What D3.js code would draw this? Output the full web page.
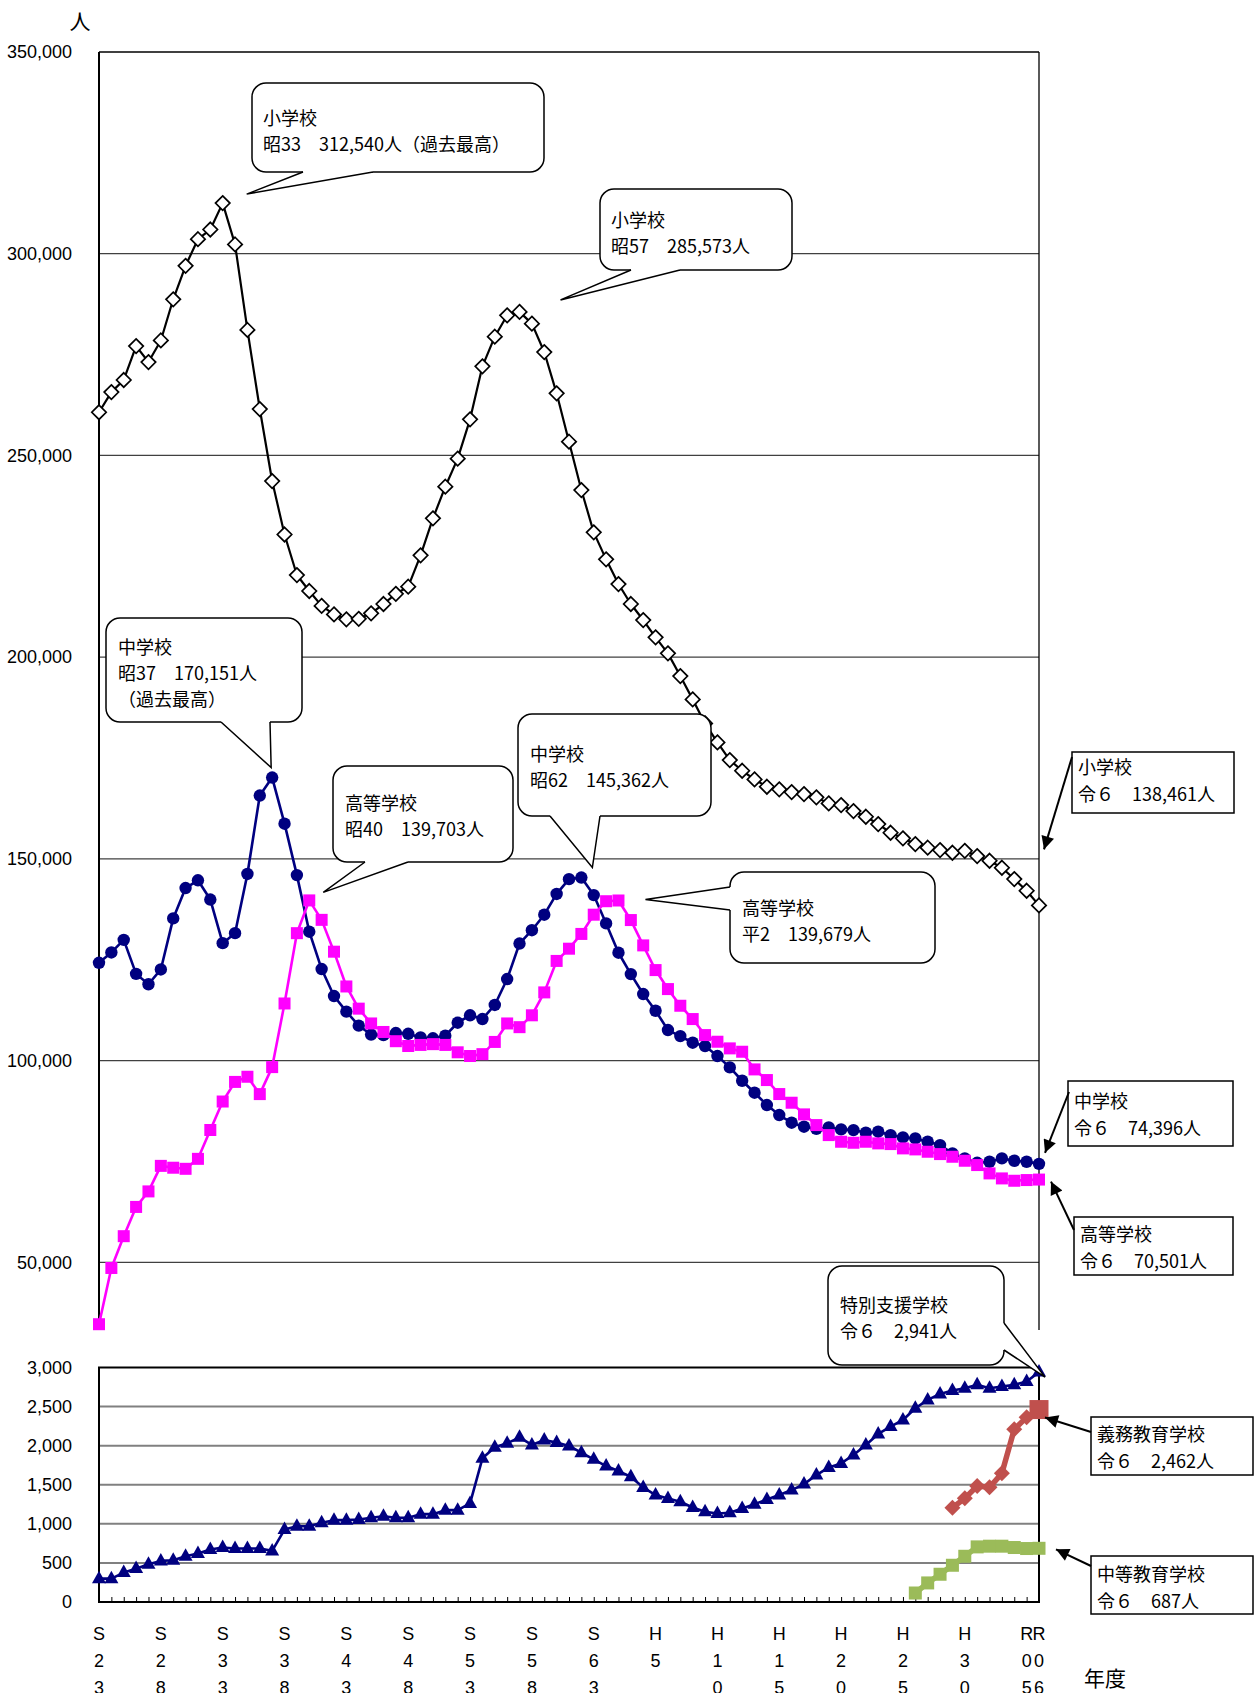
<!DOCTYPE html>
<html>
<head>
<meta charset="utf-8">
<script src="https://cdn.jsdelivr.net/npm/d3@7"></script>
<style>
body { margin: 0; background: #fff; }
text { fill: #000; }
</style>
</head>
<body>
<div id="chart"></div>
<script>
// 年度 S23(1948) .. R6(2024), 77 points
var tickIdx = [0, 5, 10, 15, 20, 25, 30, 35, 40, 45, 50, 55, 60, 65, 70, 75, 76];
var tickLabels = ["S23", "S28", "S33", "S38", "S43", "S48", "S53", "S58", "S63",
                  "H5", "H10", "H15", "H20", "H25", "H30", "R05", "R06"];

var elementary = [260700, 265700, 268700, 277100, 273150, 278500, 288700, 297000, 303600, 306000,
  312540, 302300, 281100, 261500, 243650, 230400, 220350, 216400, 212700, 210600,
  209370, 209500, 210860, 213170, 215700, 217460, 225240, 234400, 242250, 249200,
  258950, 272080, 279430, 284730, 285573, 282660, 275630, 265390, 253400, 241420,
  230930, 224240, 218120, 213170, 209200, 204900, 200940, 195310, 189530, 183580,
  178870, 174490, 171840, 169700, 167880, 167230, 166560, 166060, 165240, 163750,
  163340, 161850, 160440, 158630, 156470, 155080, 153670, 152760, 152180, 151520,
  152000, 150700, 149530, 147800, 145000, 142090, 138461];

var juniorHigh = [124240, 126800, 129930, 121490, 118920, 122590, 135240, 142760, 144690, 139920,
  129100, 131580, 146250, 165690, 170151, 158720, 145970, 131940, 122680, 115990,
  112140, 108650, 106450, 106300, 106820, 106630, 105720, 105530, 106170, 109380,
  111220, 110300, 113790, 120210, 129010, 132310, 136160, 141300, 144970, 145362,
  141020, 134000, 126730, 121440, 116490, 112350, 107560, 106070, 104420, 103600,
  101120, 98310, 95000, 92030, 88970, 86490, 84590, 83600, 83100, 83430,
  82940, 82770, 82110, 82360, 81530, 80950, 80710, 79880, 79050, 76990,
  75750, 74670, 74920, 75750, 75170, 74920, 74396];

var highSchool = [34650, 48590, 56470, 63720, 67570, 73900, 73440, 73170, 75640, 82790,
  89850, 94710, 95990, 91690, 98380, 114150, 131580, 139703, 134880, 126990,
  118370, 112870, 109200, 107090, 104800, 103610, 103880, 104070, 103880, 102050,
  101130, 101590, 104620, 109200, 108280, 111220, 116900, 124700, 127730, 131390,
  136160, 139500, 139679, 134830, 128550, 122430, 117720, 113590, 110290, 106320,
  104670, 103020, 102190, 97810, 95170, 91700, 89550, 86660, 84010, 81530,
  79880, 79630, 79880, 79470, 79300, 78230, 77980, 77400, 76820, 76160,
  75170, 74100, 72030, 70790, 70210, 70380, 70501];

var specialNeeds = [299, 299, 376, 427, 483, 526, 534, 585, 620, 671,
  697, 684, 684, 684, 654, 927, 970, 970, 1013, 1047,
  1047, 1056, 1077, 1098, 1077, 1077, 1124, 1124, 1175, 1175,
  1261, 1838, 1979, 2030, 2107, 2009, 2073, 2039, 1996, 1910,
  1825, 1739, 1675, 1603, 1466, 1368, 1325, 1282, 1209, 1154,
  1132, 1141, 1197, 1252, 1312, 1368, 1432, 1508, 1624, 1722,
  1773, 1880, 2009, 2150, 2244, 2329, 2479, 2585, 2662, 2705,
  2735, 2778, 2735, 2756, 2778, 2820, 2941];

// 義務教育学校 H29〜R6, 中等教育学校 H26〜R6
var compulsoryStart = 69;
var compulsory = [1206, 1326, 1484, 1467, 1646, 2209, 2362, 2462];
var secondaryStart = 66;
var secondary = [115, 244, 355, 470, 585, 705, 714, 714, 697, 684, 687];

var topTicks = [50000, 100000, 150000, 200000, 250000, 300000, 350000];
var botTicks = [0, 500, 1000, 1500, 2000, 2500, 3000];

var width = 1260, height = 1693;
var svg = d3.select("#chart").append("svg")
    .attr("width", width)
    .attr("height", height)
    .style("background", "#fff");

var x = d3.scaleLinear().domain([0, 76]).range([99, 1039]);
var yTop = d3.scaleLinear().domain([0, 350000]).range([1464, 52]);
var yBot = d3.scaleLinear().domain([0, 3000]).range([1602, 1367.5]);
var topBottom = 1330;
var fmt = d3.format(",");
var numFont = "'Liberation Sans', Arial, sans-serif";
var jpFont = "'Noto Sans CJK JP', 'Noto Sans', sans-serif";

// ---- upper chart frame & grid
var topG = svg.append("g");
topG.selectAll("line.grid")
    .data(topTicks.slice(0, -1))
    .enter().append("line")
    .attr("x1", x(0)).attr("x2", x(76))
    .attr("y1", function(d) { return yTop(d); })
    .attr("y2", function(d) { return yTop(d); })
    .attr("stroke", "#404040").attr("stroke-width", 1.2);
topG.append("line").attr("x1", x(0)).attr("x2", x(76)).attr("y1", yTop(350000)).attr("y2", yTop(350000))
    .attr("stroke", "#000").attr("stroke-width", 1.5);
topG.append("line").attr("x1", x(0)).attr("x2", x(0)).attr("y1", yTop(350000)).attr("y2", topBottom)
    .attr("stroke", "#000").attr("stroke-width", 2);
topG.append("line").attr("x1", x(76)).attr("x2", x(76)).attr("y1", yTop(350000)).attr("y2", topBottom)
    .attr("stroke", "#000").attr("stroke-width", 1.3);

var axTop = topG.append("g")
    .attr("transform", "translate(" + (x(0) - 24) + ",0)")
    .call(d3.axisLeft(yTop).tickValues(topTicks).tickSize(0).tickFormat(fmt));
axTop.select(".domain").remove();
axTop.selectAll("text").attr("font-family", numFont).attr("font-size", 18).attr("fill", "#000");

svg.append("text").attr("x", 80).attr("y", 29).attr("text-anchor", "middle")
    .attr("font-family", jpFont).attr("font-size", 21).text("人");

// ---- lower chart frame & grid
var botG = svg.append("g");
botG.selectAll("line.grid")
    .data(botTicks.slice(1, -1))
    .enter().append("line")
    .attr("x1", x(0)).attr("x2", x(76))
    .attr("y1", function(d) { return yBot(d); })
    .attr("y2", function(d) { return yBot(d); })
    .attr("stroke", "#808080").attr("stroke-width", 2);
botG.append("rect")
    .attr("x", x(0)).attr("y", yBot(3000))
    .attr("width", x(76) - x(0)).attr("height", yBot(0) - yBot(3000))
    .attr("fill", "none").attr("stroke", "#000").attr("stroke-width", 2);

var axBotY = botG.append("g")
    .attr("transform", "translate(" + (x(0) - 24) + ",0)")
    .call(d3.axisLeft(yBot).tickValues(botTicks).tickSize(0).tickFormat(fmt));
axBotY.select(".domain").remove();
axBotY.selectAll("text").attr("font-family", numFont).attr("font-size", 18).attr("fill", "#000");

var axBotX = botG.append("g")
    .attr("transform", "translate(0," + yBot(0) + ")")
    .call(d3.axisBottom(x).tickValues(d3.range(1, 76)).tickSize(-5).tickFormat(""));
axBotX.select(".domain").remove();
axBotX.selectAll("line").attr("stroke", "#000").attr("stroke-width", 1);

// stacked x labels
var xl = svg.append("g").selectAll("g")
    .data(tickIdx)
    .enter().append("g")
    .attr("transform", function(d) { return "translate(" + x(d) + ",0)"; });
xl.each(function(d, k) {
  var chars = tickLabels[k].split("");
  d3.select(this).selectAll("text")
    .data(chars)
    .enter().append("text")
    .attr("x", 0)
    .attr("y", function(c, j) { return 1640 + j * 27; })
    .attr("text-anchor", "middle")
    .attr("font-family", numFont).attr("font-size", 18)
    .text(function(c) { return c; });
});
svg.append("text").attr("x", 1084).attr("y", 1686)
    .attr("font-family", jpFont).attr("font-size", 21).text("年度");

// ---- series helpers
function drawLine(data, yScale, color, w) {
  var line = d3.line()
      .defined(function(d) { return d != null; })
      .x(function(d, i) { return x(i); })
      .y(function(d) { return yScale(d); });
  svg.append("path").datum(data)
      .attr("d", line)
      .attr("fill", "none").attr("stroke", color).attr("stroke-width", w)
      .attr("stroke-linejoin", "round");
}
function pad(start, arr) {
  return d3.range(start).map(function() { return null; }).concat(arr);
}
function pts(data) {
  return data.map(function(v, i) { return { i: i, v: v }; }).filter(function(d) { return d.v != null; });
}

// 小学校
drawLine(elementary, yTop, "#000", 2.2);
svg.append("g").selectAll("path")
    .data(pts(elementary)).enter().append("path")
    .attr("d", "M0,-7.2L7.2,0L0,7.2L-7.2,0Z")
    .attr("transform", function(d) { return "translate(" + x(d.i) + "," + yTop(d.v) + ")"; })
    .attr("fill", "#fff").attr("stroke", "#000").attr("stroke-width", 1.7);

// 中学校
drawLine(juniorHigh, yTop, "#000080", 2.6);
svg.append("g").selectAll("circle")
    .data(pts(juniorHigh)).enter().append("circle")
    .attr("cx", function(d) { return x(d.i); })
    .attr("cy", function(d) { return yTop(d.v); })
    .attr("r", 6.2).attr("fill", "#000080");

// 高等学校
drawLine(highSchool, yTop, "#FF00FF", 2.6);
svg.append("g").selectAll("rect")
    .data(pts(highSchool)).enter().append("rect")
    .attr("x", function(d) { return x(d.i) - 6; })
    .attr("y", function(d) { return yTop(d.v) - 6; })
    .attr("width", 12).attr("height", 12).attr("fill", "#FF00FF");

// 特別支援学校
drawLine(specialNeeds, yBot, "#000080", 2.6);
svg.append("g").selectAll("path")
    .data(pts(specialNeeds)).enter().append("path")
    .attr("d", "M0,-8L7,4.5L-7,4.5Z")
    .attr("transform", function(d) { return "translate(" + x(d.i) + "," + yBot(d.v) + ")"; })
    .attr("fill", "#000080");

// 中等教育学校
var secFull = pad(secondaryStart, secondary);
drawLine(secFull, yBot, "#9BBB59", 5.5);
svg.append("g").selectAll("rect")
    .data(pts(secFull)).enter().append("rect")
    .attr("x", function(d) { return x(d.i) - 6.5; })
    .attr("y", function(d) { return yBot(d.v) - 6.5; })
    .attr("width", 13).attr("height", 13).attr("fill", "#9BBB59");

// 義務教育学校
var compFull = pad(compulsoryStart, compulsory);
drawLine(compFull, yBot, "#C0504D", 5.5);
var compPts = pts(compFull);
svg.append("g").selectAll("path")
    .data(compPts.slice(0, -1)).enter().append("path")
    .attr("d", "M0,-8L8,0L0,8L-8,0Z")
    .attr("transform", function(d) { return "translate(" + x(d.i) + "," + yBot(d.v) + ")"; })
    .attr("fill", "#C0504D");
svg.append("g").selectAll("rect")
    .data(compPts.slice(-1)).enter().append("rect")
    .attr("x", function(d) { return x(d.i) - 9.5; })
    .attr("y", function(d) { return yBot(d.v) - 9.5; })
    .attr("width", 19).attr("height", 19).attr("fill", "#C0504D");

// ---- callouts (rounded, with pointer)
var callouts = [
  { box: [252, 83, 292, 89], side: "bottom", base: [303, 373], i: 10, v: 312540, s: yTop, off: [24, -9],
    lines: ["小学校", "昭33　312,540人（過去最高）"], tx: 263, ty: 125 },
  { box: [600, 189, 192, 81], side: "bottom", base: [631, 680], i: 34, v: 285573, s: yTop, off: [41, -12],
    lines: ["小学校", "昭57　285,573人"], tx: 611, ty: 227 },
  { box: [106, 618, 196, 104], side: "bottom", base: [221, 270], i: 14, v: 170151, s: yTop, off: [-1, -10],
    lines: ["中学校", "昭37　170,151人", "（過去最高）"], tx: 118, ty: 654 },
  { box: [333, 766, 180, 96], side: "bottom", base: [365, 408], i: 17, v: 139703, s: yTop, off: [14, -8],
    lines: ["高等学校", "昭40　139,703人"], tx: 345, ty: 810 },
  { box: [518, 714, 193, 102], side: "bottom", base: [550, 600], i: 39, v: 145362, s: yTop, off: [11, -10],
    lines: ["中学校", "昭62　145,362人"], tx: 530, ty: 761 },
  { box: [730, 872, 205, 91], side: "left", base: [887, 910], i: 42, v: 139679, s: yTop, off: [27, -1],
    lines: ["高等学校", "平2　139,679人"], tx: 742, ty: 915 },
  { box: [828, 1266, 176, 99], side: "right", base: [1323, 1350], i: 76, v: 2941, s: yBot, off: [6, 5],
    lines: ["特別支援学校", "令６　2,941人"], tx: 840, ty: 1312 }
];

callouts.forEach(function(c) {
  var g = svg.append("g");
  var b = c.box;
  g.append("rect").attr("x", b[0]).attr("y", b[1]).attr("width", b[2]).attr("height", b[3])
      .attr("rx", 14).attr("fill", "#fff").attr("stroke", "#000").attr("stroke-width", 1.5);
  var tip = [x(c.i) + c.off[0], c.s(c.v) + c.off[1]];
  var p1, p2, q1, q2;
  if (c.side == "bottom") {
    p1 = [c.base[0], b[1] + b[3]]; p2 = [c.base[1], b[1] + b[3]];
    q1 = [p1[0], p1[1] - 3]; q2 = [p2[0], p2[1] - 3];
  } else if (c.side == "left") {
    p1 = [b[0], c.base[0]]; p2 = [b[0], c.base[1]];
    q1 = [p1[0] + 3, p1[1]]; q2 = [p2[0] + 3, p2[1]];
  } else {
    p1 = [b[0] + b[2], c.base[0]]; p2 = [b[0] + b[2], c.base[1]];
    q1 = [p1[0] - 3, p1[1]]; q2 = [p2[0] - 3, p2[1]];
  }
  g.append("path").attr("d", "M" + [q1, p1, tip, p2, q2].join("L") + "Z").attr("fill", "#fff");
  g.append("path").attr("d", "M" + [p1, tip, p2].join("L"))
      .attr("fill", "none").attr("stroke", "#000").attr("stroke-width", 1.5);
  g.selectAll("text").data(c.lines).enter().append("text")
      .attr("x", c.tx).attr("y", function(d, k) { return c.ty + k * 26; })
      .attr("font-family", jpFont).attr("font-size", 18)
      .text(function(d) { return d; });
});

// ---- end labels (square box + arrow)
svg.append("defs").append("marker")
    .attr("id", "arr").attr("viewBox", "0 0 10 10")
    .attr("refX", 10).attr("refY", 5)
    .attr("markerWidth", 17).attr("markerHeight", 13)
    .attr("markerUnits", "userSpaceOnUse")
    .attr("orient", "auto")
    .append("path").attr("d", "M0,0L10,5L0,10Z").attr("fill", "#000");

var endLabels = [
  { box: [1072, 752, 162, 61], from: [1072, 757], i: 76, v: 138461, s: yTop, off: [5, -56],
    lines: ["小学校", "令６　138,461人"], ty: 774 },
  { box: [1068, 1081, 165, 65], from: [1069, 1092], i: 76, v: 74396, s: yTop, off: [6, -11],
    lines: ["中学校", "令６　74,396人"], ty: 1108 },
  { box: [1074, 1217, 159, 58], from: [1074, 1230], i: 76, v: 70501, s: yTop, off: [12, 2],
    lines: ["高等学校", "令６　70,501人"], ty: 1241 },
  { box: [1091, 1417, 162, 58], from: [1091, 1432], i: 76, v: 2462, s: yBot, off: [6, 8],
    lines: ["義務教育学校", "令６　2,462人"], ty: 1441 },
  { box: [1091, 1556, 162, 58], from: [1091, 1566], i: 76, v: 687, s: yBot, off: [17, 1],
    lines: ["中等教育学校", "令６　687人"], ty: 1581 }
];

endLabels.forEach(function(c) {
  var g = svg.append("g");
  var b = c.box;
  g.append("rect").attr("x", b[0]).attr("y", b[1]).attr("width", b[2]).attr("height", b[3])
      .attr("fill", "#fff").attr("stroke", "#000").attr("stroke-width", 1.5);
  g.append("line")
      .attr("x1", c.from[0]).attr("y1", c.from[1])
      .attr("x2", x(c.i) + c.off[0]).attr("y2", c.s(c.v) + c.off[1])
      .attr("stroke", "#000").attr("stroke-width", 2)
      .attr("marker-end", "url(#arr)");
  g.selectAll("text").data(c.lines).enter().append("text")
      .attr("x", b[0] + 6).attr("y", function(d, k) { return c.ty + k * 27; })
      .attr("font-family", jpFont).attr("font-size", 18)
      .text(function(d) { return d; });
});
</script>
</body>
</html>
